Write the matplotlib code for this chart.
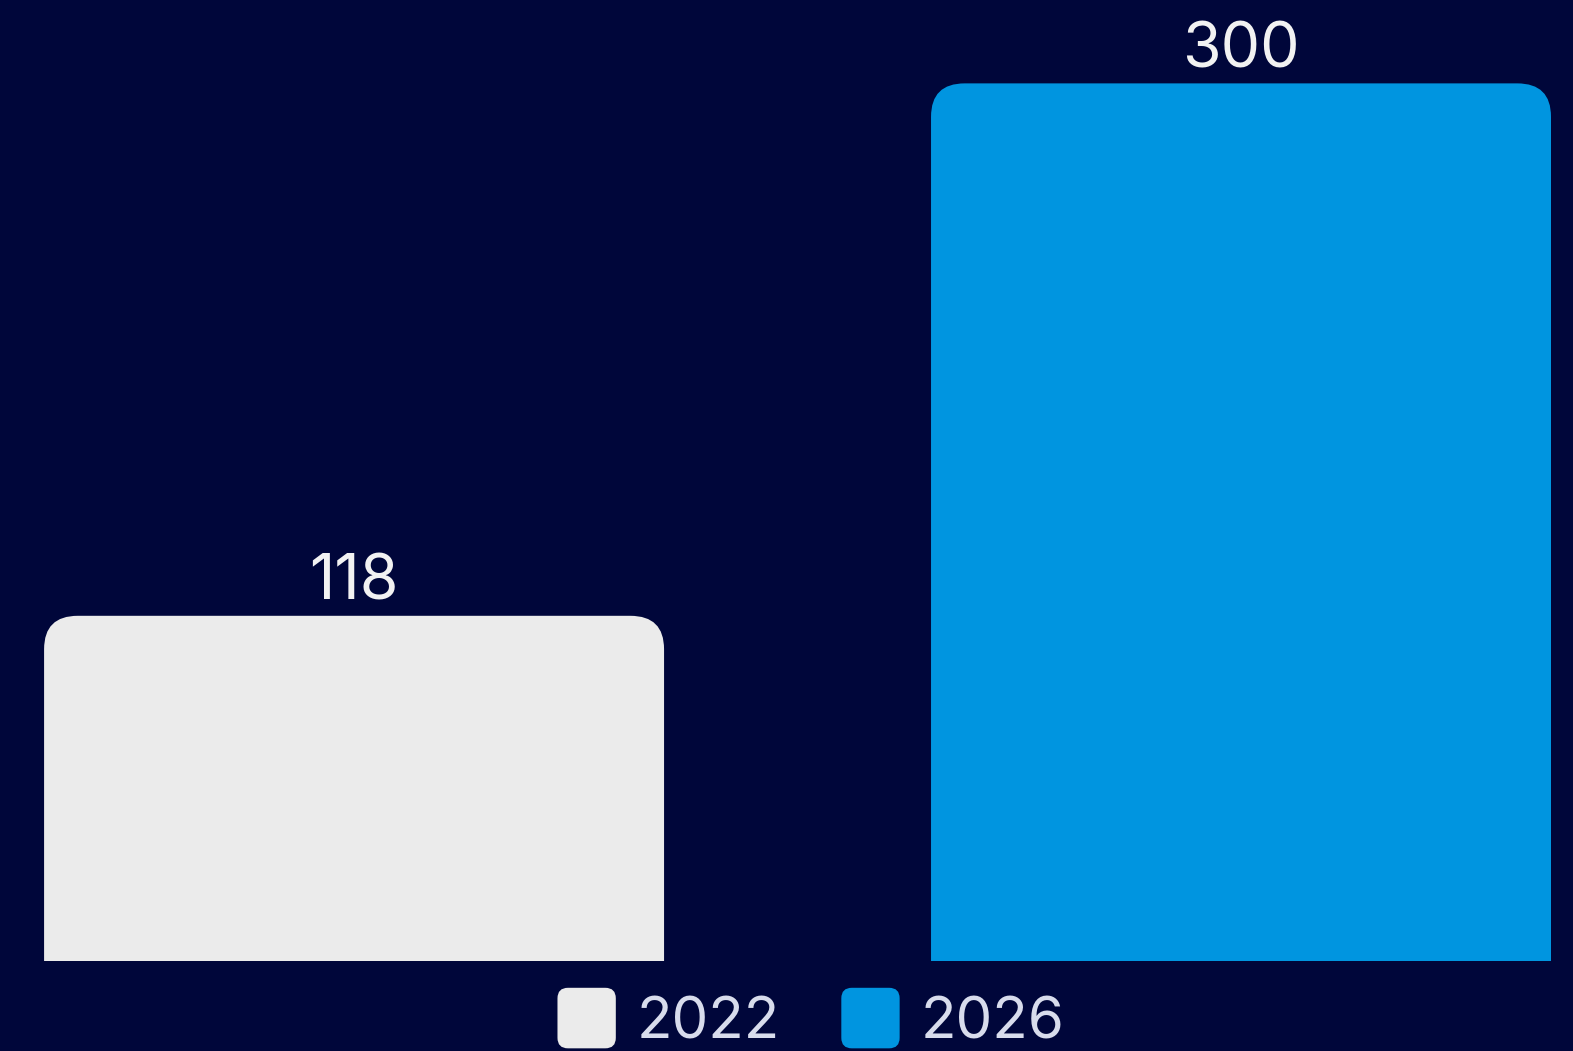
import matplotlib
matplotlib.use("Agg")
import matplotlib.pyplot as plt
from matplotlib.patches import FancyBboxPatch, Rectangle
from matplotlib.legend_handler import HandlerPatch

# Dados
anos = ["2022", "2026"]
valores = [118, 300]
cores = ["#EBEBEB", "#0095E0"]

fundo = "#00063A"
texto_cor = "#F2F2F2"

plt.rcParams["font.family"] = ["Inter", "DejaVu Sans"]

fig = plt.figure(figsize=(15.73, 10.51), dpi=100, facecolor=fundo)
ax = fig.add_axes([0, 90 / 1051, 1, 961 / 1051])
ax.set_facecolor(fundo)

largura = 0.699
x = list(range(len(valores)))
bars = ax.bar(x, valores, width=largura, color=cores, alpha=0)

# Barras com cantos arredondados so em cima
raio_x = 0.038
aspecto = 300
for b, cor, v in zip(bars, cores, valores):
    x0, w, h = b.get_x(), b.get_width(), b.get_height()
    ax.add_patch(FancyBboxPatch((x0, -20), w, h + 20,
                                boxstyle="round,pad=0,rounding_size=%f" % raio_x,
                                mutation_aspect=aspecto, fc=cor, ec="none",
                                snap=False))
    ax.text(x0 + w / 2, h + 5.5, str(v), ha="center", va="baseline",
            fontsize=45, color=texto_cor)

ax.set_xlim(-0.3992, 1.3743)
ax.set_ylim(0, 328.5)
ax.axis("off")


class HandlerRound(HandlerPatch):
    def create_artists(self, legend, orig_handle, xdescent, ydescent,
                       width, height, fontsize, trans):
        p = FancyBboxPatch((-xdescent, -ydescent - 3), width, height + 6,
                           boxstyle="round,pad=0,rounding_size=%f" % (width * 0.18),
                           fc=orig_handle.get_facecolor(), ec="none", transform=trans)
        return [p]


handles = [Rectangle((0, 0), 1, 1, fc=c) for c in cores]
leg = ax.legend(handles, anos, loc="center", ncol=2, frameon=False,
                bbox_to_anchor=(811 / 1573, 30 / 1051), bbox_transform=fig.transFigure,
                fontsize=42, handlelength=1.0, handleheight=1.0,
                handletextpad=0.36, columnspacing=1.05,
                handler_map={Rectangle: HandlerRound()})
for t in leg.get_texts():
    t.set_color("#D8DCEC")

fig.savefig("out.png", dpi=100, facecolor=fundo)
